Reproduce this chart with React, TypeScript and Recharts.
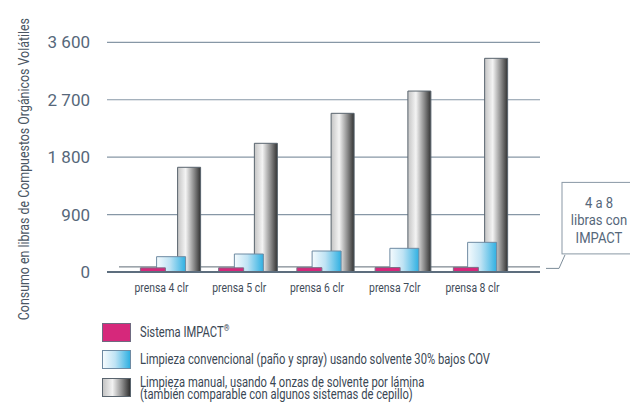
import React from 'react';
import { BarChart, Bar, XAxis, YAxis, CartesianGrid, ReferenceLine, Legend } from 'recharts';

const categories = ['prensa 4 clr', 'prensa 5 clr', 'prensa 6 clr', 'prensa 7clr', 'prensa 8 clr'];
const impactValues = [65, 65, 68, 70, 72];
const conventionalValues = [240, 282, 329, 371, 465];
const manualValues = [1641, 2017, 2487, 2836, 3349];
const yTicks = [0, 900, 1800, 2700, 3600];
const yTickLabels = ['0', '900', '1 800', '2 700', '3 600'];
const floorValue = 80;
const yAxisTitle = 'Consumo en libras de Compuestos Orgánicos Volátiles';
const calloutLines = ['4 a 8', 'libras con', 'IMPACT'];
const impactName = 'Sistema IMPACT®';
const conventionalName = 'Limpieza convencional (paño y spray) usando solvente 30% bajos COV';
const manualName = 'Limpieza manual, usando 4 onzas de solvente por lámina\n(también comparable con algunos sistemas de cepillo)';
const legendOrder = [impactName, conventionalName, manualName];

const data = categories.map((category, i) => ({
  category,
  impact: impactValues[i],
  conventional: conventionalValues[i],
  manual: manualValues[i],
}));

const FONT = "Roboto, 'Noto Sans', sans-serif";

const SText = ({ x, y, sx, rotate = 0, children, ...rest }: any) => (
  <g transform={`translate(${x},${y}) rotate(${rotate}) scale(${sx},1)`}>
    <text x={0} y={0} fontFamily={FONT} {...rest}>
      {children}
    </text>
  </g>
);

const swatchStyle: Record<string, React.CSSProperties> = {
  [impactName]: { background: '#d6287b', border: '1px solid #6f6a80' },
  [conventionalName]: { background: 'linear-gradient(to right, #f5fbfe 0%, #bfe3f4 45%, #2fb0e2 100%)', border: '1px solid #6e8aa2' },
  [manualName]: { background: 'linear-gradient(to right, #c4c4c4 0%, #f2f2f2 35%, #8e8e8e 70%, #303030 100%)', border: '1px solid #59646e' },
};
const itemGap: Record<string, number> = { [impactName]: 8, [conventionalName]: 9, [manualName]: 0 };

const renderLegend = (props: any) => {
  const payload = [...(props.payload || [])].sort(
    (a: any, b: any) => legendOrder.indexOf(a.value) - legendOrder.indexOf(b.value)
  );
  return (
    <div style={{ fontFamily: FONT, color: '#3a4754', fontSize: 14 }}>
      {payload.map((entry: any) => {
        const name: string = entry.value;
        const multi = name.includes('\n');
        const hasReg = name.endsWith('®');
        return (
          <div
            key={name}
            style={{ display: 'flex', alignItems: multi ? 'flex-start' : 'center', height: 19, marginBottom: itemGap[name] }}
          >
            <div style={{ width: 29, height: 19, boxSizing: 'border-box', flex: 'none', ...swatchStyle[name] }} />
            <div
              style={{
                marginLeft: 9,
                whiteSpace: 'pre',
                lineHeight: multi ? '11.5px' : '19px',
                marginTop: multi ? -1 : 0,
                transform: 'scaleX(0.8)',
                transformOrigin: 'left center',
              }}
            >
              {hasReg ? (
                <>
                  {name.slice(0, -1)}
                  <sup style={{ fontSize: 9, lineHeight: 0 }}>®</sup>
                </>
              ) : (
                name
              )}
            </div>
          </div>
        );
      })}
    </div>
  );
};

const renderYLabel = (props: any) => {
  const vb = props.viewBox || { x: 0, y: 42, width: 107, height: 230 };
  const x = vb.x + 29;
  const y = vb.y + vb.height / 2 + 12;
  return (
    <SText x={x} y={y} sx={0.8} rotate={-90} textAnchor="middle" fontSize={15.5} fill="#4a5663">
      {yAxisTitle}
    </SText>
  );
};

const renderCallout = (props: any) => {
  const vb = props.viewBox || { x: 107, y: 266, width: 433, height: 0 };
  const R = vb.x + vb.width;
  const Y = vb.y;
  return (
    <g>
      <polyline
        points={`${R + 6},${Y + 1.5} ${R + 19},${Y + 1.5} ${R + 25},${Y - 12}`}
        fill="none"
        stroke="#7d8c99"
        strokeWidth={1}
      />
      <rect x={R + 22} y={Y - 84.5} width={75} height={71.5} fill="#fff" stroke="#8a98a5" strokeWidth={1} />
      {calloutLines.map((t, i) => (
        <SText
          key={t}
          x={R + 59}
          y={Y - 64.5 + i * 17.5}
          sx={0.87}
          textAnchor="middle"
          dominantBaseline="central"
          fontSize={15}
          fill="#56677a"
        >
          {t}
        </SText>
      ))}
    </g>
  );
};

const renderFloorLine = (p: any) => (
  <line key={`floor-${p.y1}`} x1={p.x1 + 12} y1={p.y1} x2={p.x2} y2={p.y2} stroke="#5f6b77" strokeWidth={1} />
);

const renderXTick = (p: any) => (
  <SText x={p.x - 10} y={p.y} sx={0.77} dy="0.71em" textAnchor="middle" fontSize={13.5} fill="#3f4c59">
    {p.payload.value}
  </SText>
);

export default function App() {
  return (
    <div style={{ position: 'absolute', left: 0, top: 0, width: 630, height: 403, overflow: 'hidden', background: '#fff' }}>
      <BarChart width={630} height={403} data={data} margin={{ top: 42.3, right: 90, bottom: 101, left: 0 }}>
        <defs>
          <linearGradient id="gradBlue" x1="0" y1="0" x2="1" y2="0">
            <stop offset="0%" stopColor="#f5fbfe" />
            <stop offset="45%" stopColor="#bfe3f4" />
            <stop offset="100%" stopColor="#2fb0e2" />
          </linearGradient>
          <linearGradient id="gradGray" x1="0" y1="0" x2="1" y2="0">
            <stop offset="0%" stopColor="#c4c4c4" />
            <stop offset="35%" stopColor="#f4f4f4" />
            <stop offset="70%" stopColor="#8e8e8e" />
            <stop offset="100%" stopColor="#333333" />
          </linearGradient>
        </defs>
        <CartesianGrid vertical={false} stroke="#8797a6" strokeWidth={1.2} />
        <CartesianGrid vertical={false} horizontalValues={[floorValue]} horizontal={renderFloorLine} />
        <XAxis
          dataKey="category"
          height={30}
          interval={0}
          tickLine={false}
          tickSize={0}
          tickMargin={10}
          axisLine={{ stroke: '#5d6e7e', strokeWidth: 2 }}
          padding={{ left: 25.6, right: 18.6 }}
          tick={renderXTick}
        />
        <XAxis xAxisId="pink" dataKey="category" hide padding={{ left: 6.4, right: 35.4 }} />
        <XAxis xAxisId="gray" dataKey="category" hide padding={{ left: 43.6, right: 5.6 }} />
        <YAxis
          width={107}
          domain={[0, 3600]}
          ticks={yTicks}
          interval={0}
          tickFormatter={(v: number) => yTickLabels[yTicks.indexOf(v)]}
          axisLine={false}
          tickLine={false}
          tickSize={0}
          tickMargin={17}
          tick={{ fill: '#56677a', fontSize: 17, fontFamily: FONT }}
          label={renderYLabel}
        />
        <Bar xAxisId="gray" dataKey="manual" name={manualName} barSize={23} fill="url(#gradGray)" stroke="#59646e" strokeWidth={1} isAnimationActive={false} />
        <Bar dataKey="conventional" name={conventionalName} barSize={29} fill="url(#gradBlue)" stroke="#6e8aa2" strokeWidth={1} isAnimationActive={false} />
        <Bar xAxisId="pink" dataKey="impact" name={impactName} barSize={25} fill="#d6287b" stroke="#7b6f86" strokeWidth={1} isAnimationActive={false} />
        <ReferenceLine y={floorValue} stroke="none" label={renderCallout} />
        <Legend
          layout="horizontal"
          verticalAlign="middle"
          align="center"
          wrapperStyle={{ left: 102, top: 323, width: 520, height: 80, bottom: 'auto', right: 'auto' }}
          content={renderLegend}
        />
      </BarChart>
    </div>
  );
}
